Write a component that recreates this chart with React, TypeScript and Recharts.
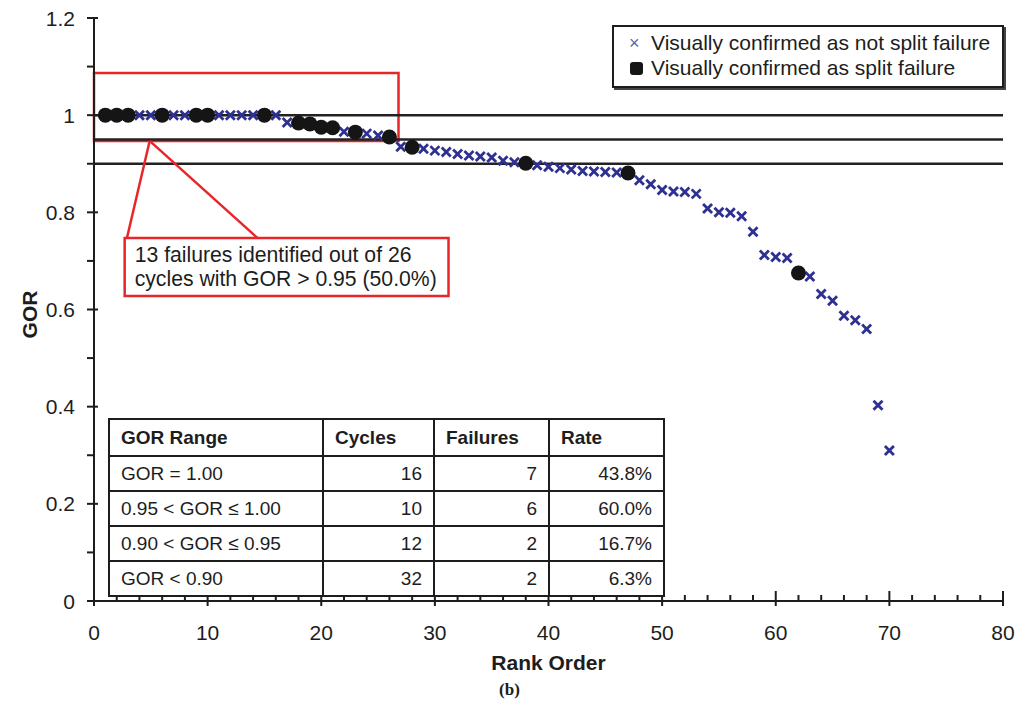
import React from "react";
import {
  ScatterChart,
  Scatter,
  XAxis,
  YAxis,
  ReferenceLine,
  ReferenceArea,
} from "recharts";

// rank order of each cycle and its GOR value
const rankOrder = [
  1, 2, 3, 4, 5, 6, 7, 8, 9, 10, 11, 12, 13, 14, 15, 16, 17, 18, 19, 20,
  21, 22, 23, 24, 25, 26, 27, 28, 29, 30, 31, 32, 33, 34, 35, 36, 37, 38, 39, 40,
  41, 42, 43, 44, 45, 46, 47, 48, 49, 50, 51, 52, 53, 54, 55, 56, 57, 58, 59, 60,
  61, 62, 63, 64, 65, 66, 67, 68, 69, 70,
];
const gorValues = [
  1, 1, 1, 1, 1, 1, 1, 1, 1, 1, 1, 1, 1, 1, 1, 1,
  0.985, 0.984, 0.982, 0.975, 0.974, 0.966, 0.965, 0.962, 0.958, 0.955,
  0.935, 0.934, 0.931, 0.927, 0.924, 0.92, 0.917, 0.915, 0.913, 0.906, 0.903, 0.901,
  0.897, 0.894, 0.891, 0.888, 0.885, 0.884, 0.883, 0.882, 0.881, 0.866, 0.858, 0.846,
  0.843, 0.842, 0.838, 0.808, 0.8, 0.799, 0.792, 0.76, 0.712, 0.708, 0.706, 0.675,
  0.668, 0.632, 0.618, 0.587, 0.578, 0.56, 0.403, 0.31,
];
// ranks visually confirmed as split failure
const splitFailureRanks = [1, 2, 3, 6, 9, 10, 15, 18, 19, 20, 21, 23, 26, 28, 38, 47, 62];

const xTicks = [
  0, 2, 4, 6, 8, 10, 12, 14, 16, 18, 20, 22, 24, 26, 28, 30, 32, 34, 36, 38, 40,
  42, 44, 46, 48, 50, 52, 54, 56, 58, 60, 62, 64, 66, 68, 70, 72, 74, 76, 78, 80,
];
const xMajorTicks = [0, 10, 20, 30, 40, 50, 60, 70, 80];
const yTicks = [0, 0.1, 0.2, 0.3, 0.4, 0.5, 0.6, 0.7, 0.8, 0.9, 1, 1.1, 1.2];
const yMajorTicks = [0, 0.2, 0.4, 0.6, 0.8, 1, 1.2];
const thresholds = [1, 0.95, 0.9];

// summary table
const gorRanges = ["GOR = 1.00", "0.95 < GOR \u2264 1.00", "0.90 < GOR \u2264 0.95", "GOR < 0.90"];
const cycleCounts = [16, 10, 12, 32];
const failureCounts = [7, 6, 2, 2];
const failureRates = ["43.8%", "60.0%", "16.7%", "6.3%"];

const points = rankOrder.map((rank, i) => ({ rank, gor: gorValues[i] }));
const notSplit = points.filter((p) => !splitFailureRanks.includes(p.rank));
const split = points.filter((p) => splitFailureRanks.includes(p.rank));

const FONT = "'Liberation Sans', Arial, sans-serif";
const INK = "#1d1d1d";
const BLUE = "#2e3192";
const RED = "#e8262a";

const XTick = (props: any) => {
  const { x, y, payload } = props;
  const major = xMajorTicks.includes(payload.value);
  return (
    <g>
      <line x1={x} x2={x} y1={y - (major ? 10 : 6)} y2={y + (major ? 5 : 0)} stroke={INK} strokeWidth={2} />
      {major && (
        <text x={x} y={y + 39} textAnchor="middle" fontSize={21} fill={INK} fontFamily={FONT}>
          {payload.value}
        </text>
      )}
    </g>
  );
};

const YTick = (props: any) => {
  const { x, y, payload } = props;
  const major = yMajorTicks.includes(payload.value);
  return (
    <g>
      <line x1={x - 7} x2={x + (major ? 4 : 0)} y1={y} y2={y} stroke={INK} strokeWidth={2} />
      {major && (
        <text x={x - 19} y={y + 7.5} textAnchor="end" fontSize={21} fill={INK} fontFamily={FONT}>
          {payload.value}
        </text>
      )}
    </g>
  );
};

const CrossMark = (props: any) => {
  const { cx, cy } = props;
  const s = 4.5;
  return (
    <g stroke={BLUE} strokeWidth={2.8}>
      <line x1={cx - s} y1={cy - s} x2={cx + s} y2={cy + s} />
      <line x1={cx - s} y1={cy + s} x2={cx + s} y2={cy - s} />
    </g>
  );
};

const DotMark = (props: any) => <circle cx={props.cx} cy={props.cy} r={7.5} fill="#151515" />;

const CalloutLabel = (props: any) => {
  const { x, y } = props.viewBox;
  return (
    <text fontSize={21.2} fill={INK} fontFamily={FONT}>
      <tspan x={x + 10} y={y + 24}>13 failures identified out of 26</tspan>
      <tspan x={x + 10} y={y + 48}>cycles with GOR &gt; 0.95 (50.0%)</tspan>
    </text>
  );
};

const YLabel = (props: any) => {
  const { x, y, height } = props.viewBox;
  const cx = x + 9;
  const cy = y + height / 2 + 5;
  return (
    <text
      x={cx}
      y={cy}
      transform={`rotate(-90 ${cx} ${cy})`}
      textAnchor="middle"
      dominantBaseline="central"
      fontSize={21}
      fontWeight="bold"
      fill={INK}
      fontFamily={FONT}
    >
      GOR
    </text>
  );
};

const cell: React.CSSProperties = {
  border: `2.5px solid ${INK}`,
  padding: "0 11px",
  fontSize: 19,
  color: INK,
  whiteSpace: "nowrap",
};

const App = () => {
  return (
    <div style={{ position: "relative", width: 1019, height: 709, background: "#fff", fontFamily: FONT }}>
      <style>{"body{margin:0;overflow:hidden}"}</style>
      <ScatterChart width={1019} height={709} margin={{ top: 18, right: 16, bottom: 38, left: 20 }}>
        <XAxis
          dataKey="rank"
          type="number"
          domain={[0, 80]}
          ticks={xTicks}
          interval={0}
          tick={<XTick />}
          tickLine={false}
          tickSize={0}
          tickMargin={0}
          height={70}
          axisLine={{ stroke: INK, strokeWidth: 2 }}
          label={{
            value: "Rank Order",
            position: "insideBottom",
            offset: 1,
            fontSize: 21,
            fontWeight: "bold",
            fill: INK,
            fontFamily: FONT,
          }}
        />
        <YAxis
          dataKey="gor"
          type="number"
          domain={[0, 1.2]}
          ticks={yTicks}
          interval={0}
          tick={<YTick />}
          tickLine={false}
          tickSize={0}
          tickMargin={0}
          width={74}
          axisLine={{ stroke: INK, strokeWidth: 2 }}
          label={{ content: <YLabel /> }}
        />
        {thresholds.map((t) => (
          <ReferenceLine key={t} y={t} stroke="#222" strokeWidth={2.5} />
        ))}
        <ReferenceArea x1={0} x2={26.8} y1={0.947} y2={1.087} fill="none" stroke={RED} strokeWidth={2.5} />
        <ReferenceLine
          segment={[
            { x: 4.9, y: 0.947 },
            { x: 2.9, y: 0.747 },
          ]}
          stroke={RED}
          strokeWidth={2.5}
        />
        <ReferenceLine
          segment={[
            { x: 4.9, y: 0.947 },
            { x: 14.4, y: 0.747 },
          ]}
          stroke={RED}
          strokeWidth={2.5}
        />
        <ReferenceArea
          x1={2.7}
          x2={31.2}
          y1={0.628}
          y2={0.747}
          fill="#fff"
          fillOpacity={1}
          stroke={RED}
          strokeWidth={2.5}
          label={<CalloutLabel />}
        />
        <Scatter data={notSplit} shape={<CrossMark />} isAnimationActive={false} />
        <Scatter data={split} shape={<DotMark />} isAnimationActive={false} />
      </ScatterChart>

      {/* legend */}
      <div
        style={{
          position: "absolute",
          left: 612,
          top: 25,
          width: 392,
          height: 63,
          border: `2px solid ${INK}`,
          boxShadow: "2px 2px 0 #444",
          background: "#fff",
          fontSize: 21,
          color: INK,
          boxSizing: "border-box",
        }}
      >
        <div style={{ position: "absolute", left: 15, top: 4, display: "flex", alignItems: "center" }}>
          <span style={{ width: 20, color: "#5a66a8", fontSize: 18, lineHeight: "24px" }}>{"\u00d7"}</span>
          <span style={{ marginLeft: 2, lineHeight: "24px" }}>Visually confirmed as not split failure</span>
        </div>
        <div style={{ position: "absolute", left: 15, top: 29, display: "flex", alignItems: "center" }}>
          <span
            style={{ width: 13, height: 13, background: "#151515", borderRadius: 3, marginLeft: 1, marginRight: 8 }}
          />
          <span style={{ lineHeight: "24px" }}>Visually confirmed as split failure</span>
        </div>
      </div>

      {/* summary table */}
      <table
        style={{
          position: "absolute",
          left: 108,
          top: 418,
          width: 555,
          height: 177,
          borderCollapse: "collapse",
          tableLayout: "fixed",
          background: "#fff",
        }}
      >
        <colgroup>
          <col style={{ width: 214 }} />
          <col style={{ width: 111 }} />
          <col style={{ width: 115 }} />
          <col style={{ width: 115 }} />
        </colgroup>
        <tbody>
          <tr style={{ height: 37 }}>
            <td style={{ ...cell, fontWeight: "bold" }}>GOR Range</td>
            <td style={{ ...cell, fontWeight: "bold" }}>Cycles</td>
            <td style={{ ...cell, fontWeight: "bold" }}>Failures</td>
            <td style={{ ...cell, fontWeight: "bold" }}>Rate</td>
          </tr>
          {gorRanges.map((range, i) => (
            <tr key={range} style={{ height: 35 }}>
              <td style={cell}>{range}</td>
              <td style={{ ...cell, textAlign: "right" }}>{cycleCounts[i]}</td>
              <td style={{ ...cell, textAlign: "right" }}>{failureCounts[i]}</td>
              <td style={{ ...cell, textAlign: "right" }}>{failureRates[i]}</td>
            </tr>
          ))}
        </tbody>
      </table>

      <div
        style={{
          position: "absolute",
          left: 0,
          width: 1019,
          top: 680,
          textAlign: "center",
          fontFamily: "'Liberation Serif', 'Times New Roman', serif",
          fontWeight: "bold",
          fontSize: 17,
          color: INK,
        }}
      >
        (b)
      </div>
    </div>
  );
};

export default App;
